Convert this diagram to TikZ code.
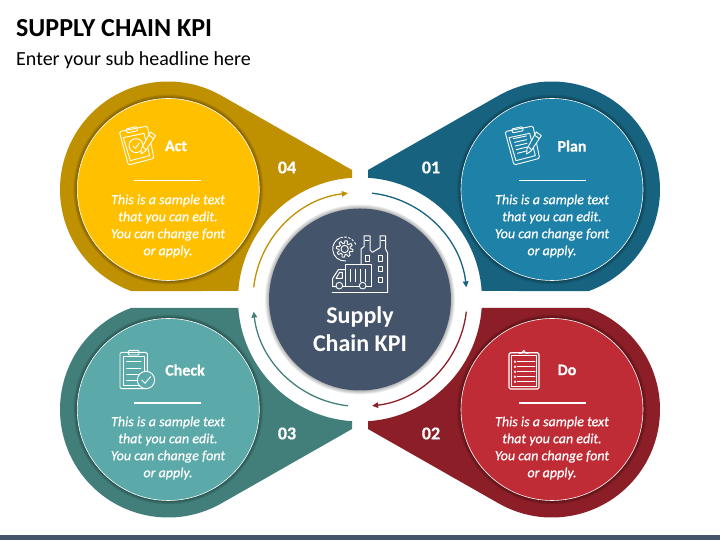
\documentclass[tikz,border=0pt]{standalone}
\usepackage{fontspec}
\setmainfont{Carlito}
\newfontfamily\bodyfam[FakeBold=0.6]{Carlito}
\newfontfamily\boldfam[FakeBold=0.5]{Carlito}
\usetikzlibrary{arrows.meta}
\definecolor{slate}{HTML}{44546A}
\definecolor{goldD}{HTML}{BF9000}\definecolor{goldL}{HTML}{FFC000}
\definecolor{blueD}{HTML}{17637F}\definecolor{blueL}{HTML}{1E81A8}
\definecolor{redD}{HTML}{8B1E26}\definecolor{redL}{HTML}{BF2C36}
\definecolor{tealD}{HTML}{427F7B}\definecolor{tealL}{HTML}{5BA9A8}
\tikzset{
  body/.style={text=white,align=center,font=\fontsize{14}{17}\selectfont\addfontfeature{FakeBold=0.5}\itshape,inner sep=0pt},
  head/.style={text=white,font=\fontsize{16}{18}\selectfont\bfseries\addfontfeature{FakeBold=0.5},inner sep=0pt},
  num/.style={text=white,font=\fontsize{18}{20}\selectfont\bfseries\addfontfeature{FakeBold=0.5},inner sep=0pt},
  ico/.style={draw=white,line width=.9pt,line join=round,line cap=round},
  rule/.style={draw=white,line width=1.4pt},
  flow/.style={line width=1.3pt,-{Triangle[length=6pt,width=5.5pt]}},
}
\newcommand{\dropshape}[1]{\fill[#1] (8,129.5) -- ({192+108*cos(119.67)},{110+108*sin(119.67)}) arc (119.67:-70.05:108) -- (121.7,8.5) arc (4:86.24:122) -- cycle;}
\newcommand{\softdisc}[5]{% x,y,radius,colour,opacity
  \foreach \d in {5,4,3,2,1}{\fill[black,opacity=#5] (#1,#2) circle ({#3+\d*.8});}
  \fill[#4] (#1,#2) circle (#3);}
\newcommand{\tiltboard}{%
  \draw[ico,rounded corners=1.5pt] (238,185)--(322,168)--(342,265)--(265,285)--cycle;
  \draw[ico] (250,203)--(312,190)--(329,257)--(271,272)--cycle;
  \draw[ico,rounded corners=1pt] (258,177)--(290,170)--(293,182)--(261,189)--cycle;}
\newcommand{\tiltpencil}[1]{%
  \filldraw[ico,fill=#1] (332,186)--(347,197)--(316,243)--(303,252)--(304,236)--cycle;
  \draw[ico] (326,195)--(341,206);\draw[ico] (308,230)--(318,240);}
\begin{document}
\begin{tikzpicture}[x=1pt,y=1pt]
\useasboundingbox (0,0) rectangle (720,540);
\fill[white] (0,0) rectangle (720,540);
\fill[slate] (0,0) rectangle (720,5);
\node[anchor=west,inner sep=0pt,font=\fontsize{26}{30}\selectfont\bfseries] (title) at (16,512) {SUPPLY CHAIN KPI};
\node[anchor=west,inner sep=0pt,font=\fontsize{20}{24}\selectfont] (sub) at (16,480) {Enter your sub headline here};
\begin{scope}[shift={(360,240.5)}]
  \dropshape{blueD}
  \begin{scope}[yscale=-1]\dropshape{redD}\end{scope}
  \begin{scope}[xscale=-1]\dropshape{goldD}\end{scope}
  \begin{scope}[xscale=-1,yscale=-1]\dropshape{tealD}\end{scope}
  \draw[flow,blueD] (83.5:107) arc (83.5:6.5:107);
  \draw[flow,redD] (-6.5:107) arc (-6.5:-83.5:107);
  \draw[flow,tealD] (-96.5:107) arc (-96.5:-173.5:107);
  \draw[flow,goldD] (173.5:107) arc (173.5:96.5:107);
\end{scope}
\softdisc{552}{350.5}{91}{blueL}{.07}
\softdisc{552}{130.5}{91}{redL}{.07}
\softdisc{168.3}{130.5}{91}{tealL}{.07}
\softdisc{168.3}{350.5}{91}{goldL}{.07}
\draw[white,line width=.6pt] (552,350.5) circle (91) (552,130.5) circle (91) (168.3,130.5) circle (91) (168.3,350.5) circle (91);
\softdisc{360}{240.5}{91}{slate}{.06}
\node[num] (n4) at (287,372.5) {04};
\node[num] (n1) at (431,372.5) {01};
\node[num] (n3) at (287,106.5) {03};
\node[num] (n2) at (431,106.5) {02};
\node[head] (h4) at (176,394) {Act};
\node[head] (h1) at (572,394) {Plan};
\node[head] (h3) at (185,170) {Check};
\node[head] (h2) at (567,170) {Do};
\draw[rule] (134,359.3) -- (201,359.3);
\draw[rule] (519,359.3) -- (586,359.3);
\draw[rule] (134,137) -- (201,137);
\draw[rule] (519,137) -- (586,137);
\node[body] (b4) at (168,314) {This is a sample text\\that you can edit.\\You can change font\\or apply.};
\node[body] (b1) at (552,314) {This is a sample text\\that you can edit.\\You can change font\\or apply.};
\node[body] (b3) at (168,92) {This is a sample text\\that you can edit.\\You can change font\\or apply.};
\node[body] (b2) at (552,92) {This is a sample text\\that you can edit.\\You can change font\\or apply.};
\node[text=white,align=center,inner sep=0pt,font=\fontsize{24}{28}\selectfont\bfseries] (ctr) at (360,211) {Supply\\Chain KPI};
\begin{scope}[shift={(40,470)},xscale=1/3,yscale=-1/3]
  \tiltboard
  \draw[ico] (288,227) circle (21);
  \draw[ico] (279,228)--(286,235)--(298,219);
  \tiltpencil{goldL}
\end{scope}
\begin{scope}[shift={(360,470)},xscale=1/3,yscale=-1/3]
\begin{scope}[xshift=197]
  \tiltboard
  \foreach \k in {0,1,2,3,4}{\draw[ico] ({263+\k*3},{206+\k*11}) -- ({302+\k},{198+\k*11});}
  \tiltpencil{blueL}
\end{scope}
\end{scope}
\begin{scope}[shift={(40,240)},xscale=1/3,yscale=-1/3]
  \draw[ico,rounded corners=1.5pt] (240,157) rectangle (322,266);
  \draw[ico] (250,168) rectangle (312,256);
  \draw[ico,rounded corners=1pt] (265,151) rectangle (297,165);
  \foreach \yy in {185,204,222,240}{\draw[ico] (260,\yy)--(303,\yy);}
  \filldraw[ico,fill=tealL] (318,240) circle (26);
  \draw[ico] (305,240)--(315,250)--(332,230);
\end{scope}
\begin{scope}[shift={(360,240)},xscale=1/3,yscale=-1/3]
  \draw[ico,line width=1.2pt,rounded corners=1.5pt] (447,158) rectangle (537,267);
  \draw[ico] (454,167) rectangle (530,260);
  \draw[ico] (478,160)--(484,160)--(491,151)--(498,160)--(505,160);
  \foreach \yy in {185,200,215,230,245}{\draw[ico] (472,\yy)--(525,\yy);\draw[ico,line width=.5pt] (465,\yy) circle (3);}
\end{scope}
\begin{scope}[shift={(235,365)},xscale=1/3,yscale=-1/3]
  \begin{scope}[shift={(329,222)}]
    \draw[ico] plot[domain=0:360,samples=97] (\x:{21+4*sign(sin(8*\x))}) -- cycle;
    \draw[ico] (0,0) circle (11);
    \draw[ico,line width=.9pt] (85:36) arc (85:245:36);
    \draw[ico,line width=.9pt,dash pattern=on 2pt off 2pt] (250:36) arc (250:345:36);
  \end{scope}
  \draw[ico,line width=1pt] (378,268)--(378,222)--(387,215)--(387,183)--(405,183)--(405,225)--(412,232)--(435,218)--(435,183)--(452,183)--(452,222)--(458,234)--(458,352);
  \draw[ico] (390,196)--(402,196);\draw[ico] (438,196)--(450,196);
  \foreach \p in {(398,250),(436,250),(436,282),(436,314)}{\draw[ico] \p ++(-6,-8) rectangle ++(12,16);}
  \draw[ico,line width=1.2pt] (292,352)--(458,352);
  \draw[ico,line width=1pt] (408,335)--(408,270)--(332,270)--(332,335);
  \draw[ico,line width=1pt] (332,284)--(310,284)--(293,310)--(293,335)--(303,335);
  \draw[ico] (323,335)--(373,335);\draw[ico] (393,335)--(408,335);
  \draw[ico] (313,332) circle (10);\draw[ico] (383,332) circle (10);
  \foreach \xx in {346,361,376,391}{\draw[ico] (\xx,283)--(\xx,320);}
  \draw[ico] (314,292)--(303,310)--(322,310)--(322,292)--cycle;
\end{scope}
\end{tikzpicture}
\end{document}
